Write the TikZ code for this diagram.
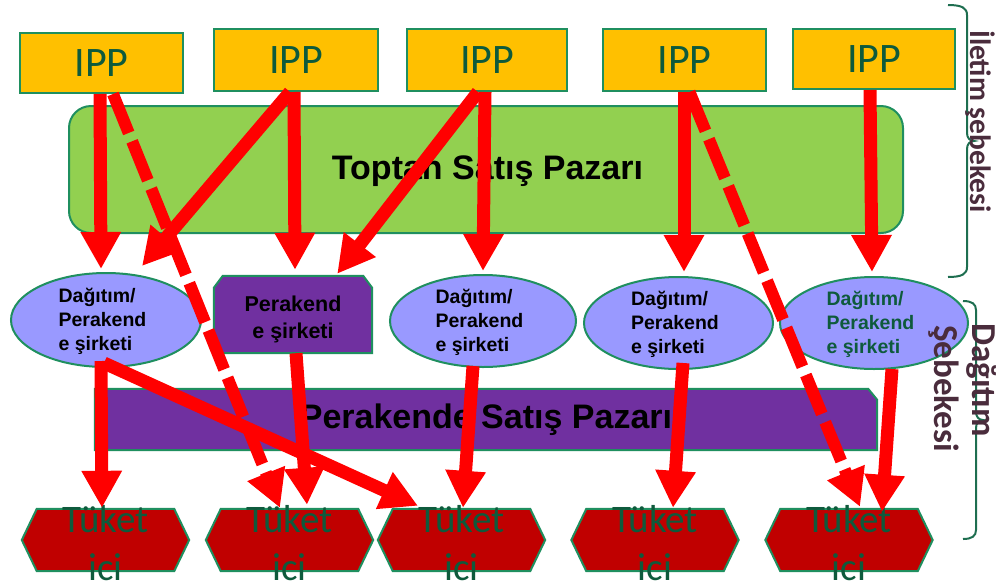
\documentclass[tikz,border=0pt]{standalone}
\usepackage{fontspec}
\setmainfont{Liberation Sans}
\newfontfamily\calfont{Carlito}
\usetikzlibrary{arrows.meta,shapes.geometric}
\definecolor{ippY}{HTML}{FFC000}
\definecolor{bord}{HTML}{1F8F5F}
\definecolor{lgreen}{HTML}{92D050}
\definecolor{lav}{HTML}{9999FF}
\definecolor{purp}{HTML}{7030A0}
\definecolor{hexR}{HTML}{C00000}
\definecolor{dgreen}{HTML}{0E5A3C}
\definecolor{plum}{HTML}{4A2C3C}
\definecolor{bracec}{HTML}{1E6E50}
\definecolor{arrc}{HTML}{FF0000}
\tikzset{
  ipp/.style={draw=bord, line width=2pt, fill=ippY, inner sep=0pt, text=dgreen,
    font=\calfont\fontsize{42}{50}\selectfont},
  ell/.style={ellipse, draw=bord, line width=2pt, fill=lav, inner sep=0pt},
  etext/.style={align=left, inner sep=0pt, font=\bfseries\fontsize{19.5}{24}\selectfont},
  box/.style={inner sep=0pt},
  shapeline/.style={draw=bord, line width=2pt},
  bigtext/.style={inner sep=0pt, font=\bfseries\fontsize{34}{40}\selectfont},
  tuk/.style={inner sep=0pt, text=dgreen, font=\calfont\fontsize{39}{46}\selectfont},
  arrw/.style={draw=arrc, line width=13pt, -{Triangle[length=37pt,width=38pt]}},
  darrw/.style={arrw, line width=12pt, dash pattern=on 42pt off 9pt},
  brc/.style={draw=bracec, line width=2pt},
  blab/.style={inner sep=0pt, text=plum, font=\calfont\bfseries\fontsize{29.5}{34}\selectfont},
  blab2/.style={inner sep=0pt, text=plum, font=\calfont\bfseries\fontsize{35}{42}\selectfont}
}
\begin{document}
\begin{tikzpicture}[x=1pt,y=-1pt]
\useasboundingbox (0,0) rectangle (999,582);
% IPP boxes
\node[ipp, minimum width=163pt, minimum height=60pt] (ipp1) at (101.5,63) {IPP};
\node[ipp, minimum width=164pt, minimum height=62pt] (ipp2) at (296,60) {IPP};
\node[ipp, minimum width=160pt, minimum height=62pt] (ipp3) at (487,60) {IPP};
\node[ipp, minimum width=163pt, minimum height=62pt] (ipp4) at (684.5,60) {IPP};
\node[ipp, minimum width=162pt, minimum height=60pt] (ipp5) at (874,59) {IPP};
% wholesale market
\node[draw=bord, line width=2pt, fill=lgreen, rounded corners=22pt, minimum width=834pt, minimum height=127pt] (top) at (486,169.5) {};
\node[bigtext] (toptxt) at (487.5,171) {Toptan Satış Pazarı};
% ellipses
\node[ell, minimum width=190pt, minimum height=94pt] (e1) at (106,320) {};
\node[ell, minimum width=186pt, minimum height=92pt] (e2) at (483,321) {};
\node[ell, minimum width=189pt, minimum height=92pt] (e3) at (678.5,323) {};
\node[ell, minimum width=188pt, minimum height=92pt] (e4) at (874,323) {};
\node[etext] (e1t) at ([xshift=-3.5pt,yshift=-1pt]e1.center) {Dağıtım/\\Perakend\\e şirketi};
\node[etext] (e2t) at ([xshift=-3.5pt,yshift=-1pt]e2.center) {Dağıtım/\\Perakend\\e şirketi};
\node[etext] (e3t) at ([xshift=-3.5pt,yshift=-1pt]e3.center) {Dağıtım/\\Perakend\\e şirketi};
\node[etext, text=dgreen] (e4t) at ([xshift=-3.5pt,yshift=-1pt]e4.center) {Dağıtım/\\Perakend\\e şirketi};
% retail company box
\node[box, minimum width=158pt, minimum height=77pt] (pk) at (293,314.5) {};
\draw[shapeline, fill=purp] (pk.south west) -- ([yshift=-12pt]pk.north west) -- ([xshift=9pt]pk.north west)
  -- ([xshift=-9pt]pk.north east) -- ([yshift=-12pt]pk.north east) -- (pk.south east) -- cycle;
\node[etext, align=center, font=\bfseries\fontsize{21.5}{27}\selectfont] (pkt) at ([yshift=-5pt]pk.center) {Perakend\\e şirketi};
% retail market bar
\node[box, minimum width=782pt, minimum height=61pt] (bar) at (486,419.5) {};
\draw[shapeline, fill=purp] (bar.south west) -- (bar.north west) -- ([xshift=-9pt]bar.north east)
  -- ([yshift=-11pt]bar.north east) -- (bar.south east) -- cycle;
\node[bigtext] (bartxt) at (486,420) {Perakende Satış Pazarı};
% consumers
\foreach \n/\x in {h1/105.5,h2/289.5,h3/461.5,h4/655,h5/849}{
  \node[box, minimum width=167pt, minimum height=62pt] (\n) at (\x,540) {};
  \draw[shapeline, fill=hexR] (\n.west) -- ([xshift=15pt]\n.north west) -- ([xshift=-15pt]\n.north east)
    -- (\n.east) -- ([xshift=-15pt]\n.south east) -- ([xshift=15pt]\n.south west) -- cycle;
  \node[tuk, anchor=base] (\n a) at ([yshift=8pt]\n.center) {Tüket};
  \node[tuk, anchor=base] (\n b) at ([yshift=-40pt]\n.center) {ici};
}
% arrows
\draw[arrw] ([xshift=-1.5pt]ipp1.south) -- ([xshift=-5pt,yshift=3pt]e1.north);
\draw[darrw] ([xshift=11.5pt]ipp1.south) -- ([xshift=-9.5pt,yshift=1pt]h2.north);
\draw[arrw] ([xshift=-6pt]ipp2.south) -- ([xshift=36pt,yshift=6pt]e1.north);
\draw[arrw] ([xshift=-2pt]ipp2.south) -- ([xshift=2pt,yshift=6pt]pk.north);
\draw[arrw] ([xshift=-9pt]ipp3.south) -- ([xshift=-35pt,yshift=2pt]pk.north east);
\draw[arrw] ([xshift=-2pt]ipp3.south) -- ([yshift=3pt]e2.north);
\draw[arrw] ([xshift=-0.5pt]ipp4.south) -- ([xshift=5.5pt,yshift=4pt]e3.north);
\draw[darrw] ([xshift=5pt]ipp4.south) -- ([xshift=11pt,yshift=2pt]h5.north);
\draw[arrw] ([xshift=-4pt]ipp5.south) -- ([xshift=-2pt,yshift=4pt]e4.north);
\draw[arrw] ([xshift=-5pt,yshift=7pt]e1.south) -- ([xshift=-3.5pt,yshift=1pt]h1.north);
\draw[arrw] ([xshift=-2pt,yshift=5pt]e1.south) -- ([xshift=-43.5pt,yshift=3pt]h3.north);
\draw[arrw] ([xshift=3pt]pk.south) -- ([xshift=17.5pt,yshift=4pt]h2.north);
\draw[arrw] ([xshift=-10pt,yshift=2pt]e2.south) -- ([xshift=1.5pt,yshift=1pt]h3.north);
\draw[arrw] ([xshift=4.5pt,yshift=7pt]e3.south) -- ([xshift=18pt,yshift=1pt]h4.north);
\draw[arrw] ([xshift=18pt,yshift=1pt]e4.south) -- ([xshift=33pt,yshift=-3pt]h5.north);
% braces
\draw[brc] (948,5) .. controls (962,5) and (967,8) .. (967,15) -- (967,133)
  .. controls (967,138) and (970,141) .. (974,141) .. controls (970,141) and (967,144) .. (967,149)
  -- (967,267) .. controls (967,274) and (962,277) .. (948,277);
\draw[brc] (963,301) .. controls (972,301) and (976,304) .. (976,310) -- (976,412)
  .. controls (976,417) and (979,420) .. (983,420) .. controls (979,420) and (976,423) .. (976,428)
  -- (976,530) .. controls (976,536) and (972,539) .. (963,539);
\node[blab, rotate=-90, anchor=base west] (il) at (970,30) {İletim şebekesi};
\node[blab2, rotate=-90, anchor=base west] (dg) at (972,323) {Dağıtım};
\node[blab2, rotate=-90, anchor=base west] (sb) at (934,325) {Şebekesi};
\end{tikzpicture}
\end{document}
